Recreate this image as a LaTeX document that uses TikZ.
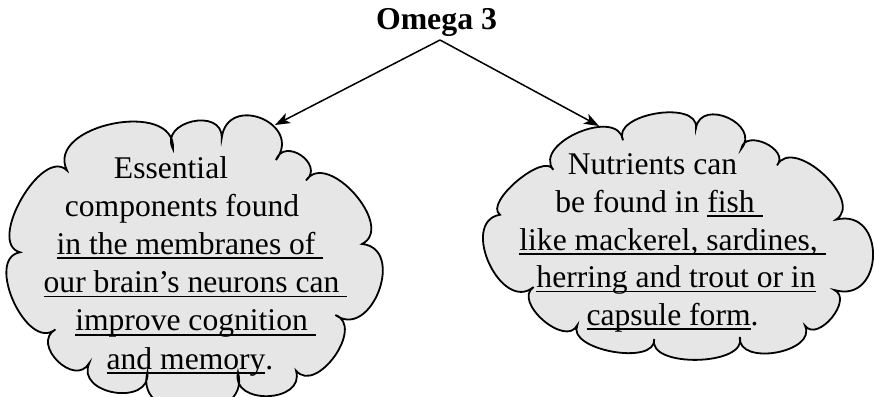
\documentclass[tikz,border=0pt]{standalone}
\usepackage{fontspec}
\setmainfont{Liberation Serif}
\usetikzlibrary{arrows.meta}
\definecolor{cloudfill}{HTML}{E6E6E6}
\newcommand\ulx[1]{\setbox0\hbox{#1}\rlap{\raisebox{-4.8pt}{\rule{\wd0}{1.8pt}}}\box0}
\begin{document}
\begin{tikzpicture}[x=1pt, y=-1pt,
  cloudline/.style={draw=black, line width=1.8pt, fill=cloudfill, line join=miter},
  bump/.style={bend left=105, looseness=#1},
  txt/.style={anchor=base, inner sep=0pt, font=\fontsize{31.6}{38}\selectfont},
  ttl/.style={anchor=base, inner sep=0pt, font=\fontsize{31.8}{38}\selectfont\bfseries},
  arr/.style={line width=1.5pt, -{Stealth[length=15pt, width=11pt, inset=4pt]}}
]
\fill[white] (0,0) rectangle (874,396);
\useasboundingbox (0,0) rectangle (874,396);

% left cloud cusps
\coordinate (c1) at (67,170.5);
\coordinate (c2) at (173,149);
\coordinate (c3) at (221.7,138);
\coordinate (c4) at (276,160);
\coordinate (c5) at (306,180.5);
\coordinate (c6) at (362,244);
\coordinate (c7) at (335.4,315);
\coordinate (c8) at (296,370.6);
\coordinate (c9) at (238,372.4);
\coordinate (c10) at (147.4,372.5);
\coordinate (c11) at (89.3,363);
\coordinate (c12) at (55.4,329.4);
\coordinate (c13) at (20,252.3);
\draw[cloudline] (c1) to[bump=1.2] (c2) to[bump=1.6] (c3) to[bump=2.0] (c4)
  to[bump=1.75] (c5) to[bump=1.15] (c6) to[bump=1.5] (c7) to[bump=1.2] (c8)
  to[bump=1.5] (c9) to[bump=1.55] (c10) to[bump=1.5] (c11) to[bump=1.55] (c12)
  to[bump=1.1] (c13) to[bump=0.95] (c1) -- cycle;

% right cloud cusps
\coordinate (r0) at (500,214.7);
\coordinate (r1) at (553.3,169.8);
\coordinate (r2) at (623,140.3);
\coordinate (r3) at (696,128);
\coordinate (r4) at (741.3,148.7);
\coordinate (r5) at (777,165.4);
\coordinate (r6) at (836,219.6);
\coordinate (r7) at (834.3,290);
\coordinate (r8) at (805,325.6);
\coordinate (r9) at (739.8,337);
\coordinate (r10) at (654.2,339);
\coordinate (r11) at (577.4,325);
\coordinate (r12) at (533.6,287);
\draw[cloudline] (r0) to[bump=0.75] (r1) to[bump=1.15] (r2) to[bump=1.0] (r3)
  to[bump=1.6] (r4) to[bump=1.35] (r5) to[bump=1.1] (r6) to[bump=1.9] (r7)
  to[bump=1.2] (r8) to[bump=1.15] (r9) to[bump=0.9] (r10) to[bump=0.9] (r11)
  to[bump=1.15] (r12) to[bump=1.35] (r0) -- cycle;

\node[ttl] (title) at (436.5,30) {Omega 3};

\node[txt] (l1) at (171,178) {Essential};
\node[txt] (l2) at (182,216.2) {components found};
\node[txt] (l3) at (190,254.4) {\ulx{in the membranes of\ }};
\node[txt] (l4) at (195.5,292.6) {\ulx{our brain’s neurons can\ }};
\node[txt] (l5) at (195.5,330.8) {\ulx{improve cognition\ }};
\node[txt] (l6) at (190,369) {\ulx{and memory}.};

\node[txt] (r1t) at (652.5,174) {Nutrients can};
\node[txt] (r2t) at (659,212) {be found in \ulx{fish\ }};
\node[txt] (r3t) at (672.5,250) {\ulx{like mackerel, sardines,\ }};
\node[txt] (r4t) at (676,287.5) {\ulx{herring and trout or in}};
\node[txt] (r5t) at (672.5,325) {\ulx{capsule form}.};

\coordinate (src) at (440,40);
\coordinate (lhit) at (275,125);
\coordinate (rhit) at (599,126);
\draw[arr] (src) -- (lhit);
\draw[arr] (src) -- (rhit);
\end{tikzpicture}
\end{document}
